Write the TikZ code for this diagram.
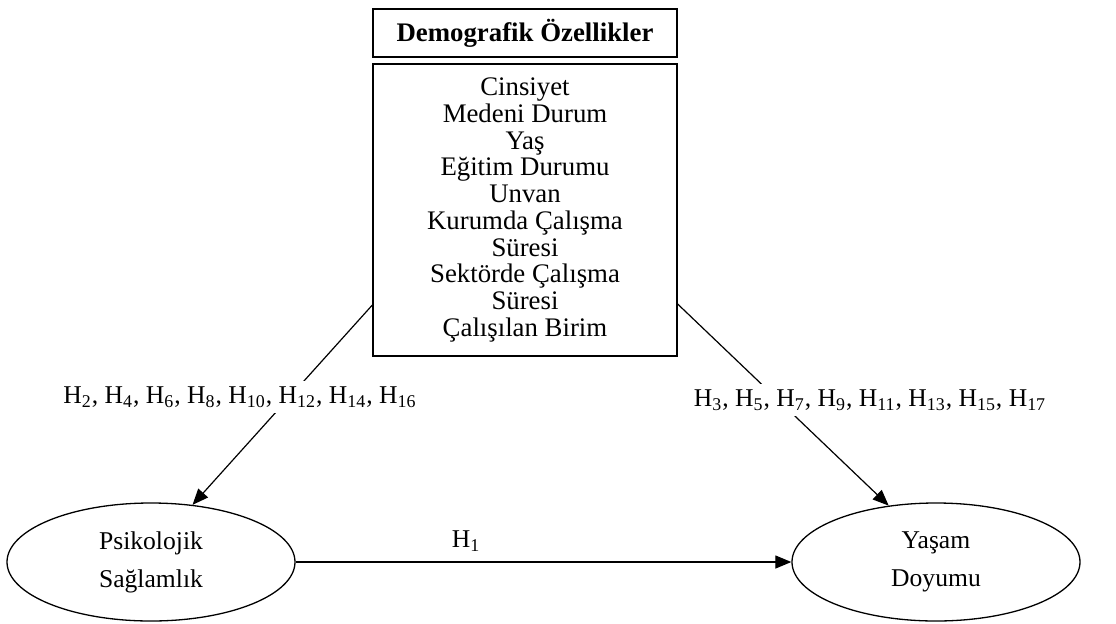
\documentclass[tikz,border=0pt]{standalone}
\usepackage{fontspec}
\setmainfont{Liberation Serif}
\usetikzlibrary{shapes.geometric,arrows.meta,calc}
\newcommand{\hsub}[1]{H\textsubscript{#1}}

\begin{document}
\begin{tikzpicture}[x=0.5pt,y=-0.5pt,
	every node/.style={font=\fontsize{12.8}{19}\selectfont},
	box/.style={draw,line width=0.65pt,minimum width=152pt,inner sep=0pt,align=center,font=\fontsize{13.4}{13.35}\selectfont},
	oval/.style={draw,ellipse,line width=0.65pt,minimum width=144pt,minimum height=59pt,inner sep=0pt,align=center},
	hyp/.style={fill=white,inner sep=3pt},
	link/.style={line width=0.6pt},
	arr/.style={link,-{Triangle[length=8pt,width=6.5pt]}}]
	\useasboundingbox (0,0) rectangle (1116,623);
	%BOXES
	\node[box,minimum height=24pt,font=\fontsize{13.4}{13.35}\selectfont\bfseries] (demo) at (525,33) {Demografik Özellikler};
	\node[box,minimum height=146pt] (vars) at (525,210) {Cinsiyet\\Medeni Durum\\Yaş\\Eğitim Durumu\\Unvan\\Kurumda Çalışma\\Süresi\\Sektörde Çalışma\\Süresi\\Çalışılan Birim};
	%OVALS
	\node[oval] (psy) at (151,562) {Psikolojik\\Sağlamlık};
	\node[oval] (life) at (936,562) {Yaşam\\Doyumu};
	%ARROWS
	\draw[arr] ($(vars.west)+(0,95)$) -- (psy.54);
	\draw[arr] ($(vars.east)+(0,94)$) -- (life.130);
	\draw[arr] (psy.east) -- (life.west);
	%HYPOTHESES
	\node[hyp] (hleft) at (240,397) {\hsub{2}, \hsub{4}, \hsub{6}, \hsub{8}, \hsub{10}, \hsub{12}, \hsub{14}, \hsub{16}};
	\node[hyp] (hright) at (870,400) {\hsub{3}, \hsub{5}, \hsub{7}, \hsub{9}, \hsub{11}, \hsub{13}, \hsub{15}, \hsub{17}};
	\node (h1) at (466,541) {\hsub{1}};
\end{tikzpicture}
\end{document}
